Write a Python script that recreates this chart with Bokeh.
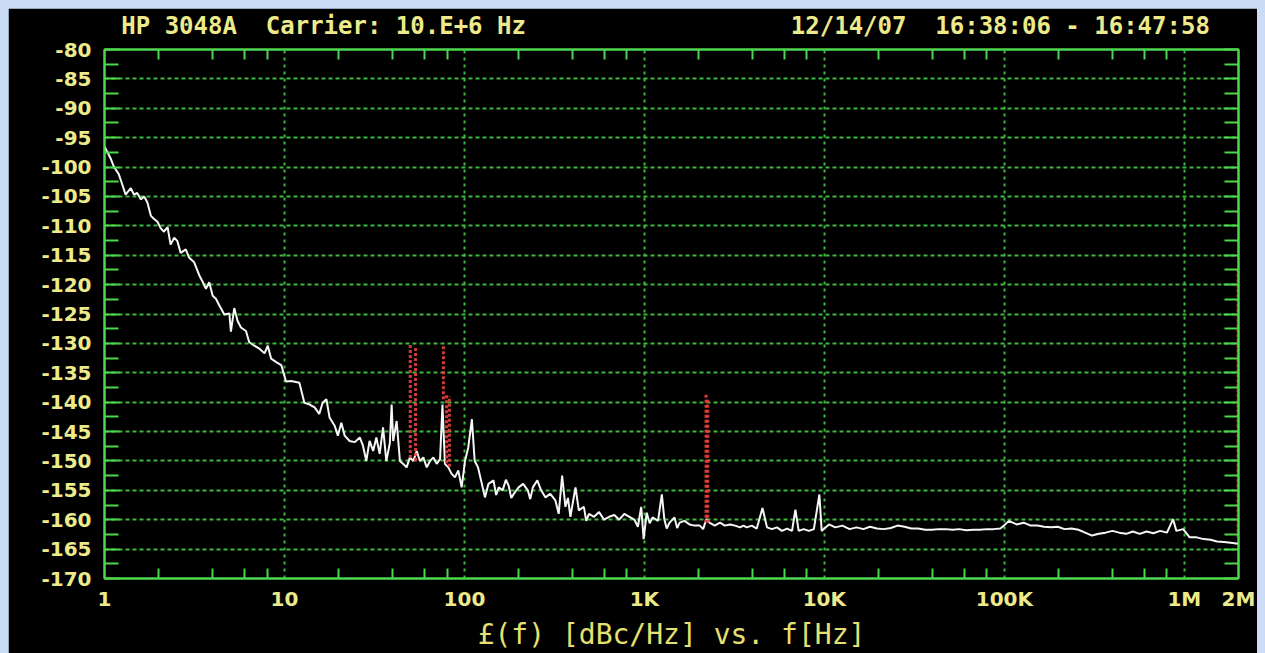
from bokeh.plotting import figure
from bokeh.models import Range1d, LogAxis, LinearAxis, FixedTicker
from bokeh.embed import file_html
from bokeh.resources import INLINE

# ---------------- data ----------------
freq = [1.0, 1.04, 1.08, 1.13, 1.2, 1.25, 1.31, 1.4, 1.46, 1.52, 1.59, 1.66, 1.73, 1.81, 1.88, 1.97,
        2.05, 2.14, 2.24, 2.33, 2.44, 2.54, 2.65, 2.83, 2.95, 3.15, 3.36, 3.51, 3.66, 3.82, 3.99, 4.16,
        4.34, 4.63, 4.94, 5.04, 5.26, 5.49, 5.73, 6.11, 6.37, 6.8, 7.26, 7.75, 8.08, 8.43, 9.0, 9.6, 9.94,
        10.2, 10.9, 12.1, 12.9, 13.8, 14.7, 15.6, 16.3, 17.1, 17.8, 19.0, 19.8, 20.7, 21.6, 23.0, 24.6,
        26.2, 27.3, 28.5, 29.7, 31.1, 32.4, 33.8, 35.3, 36.8, 38.5, 39.4, 40.2, 42.0, 43.8, 45.7, 47.7,
        49.8, 52.0, 54.3, 56.6, 59.1, 61.7, 64.4, 67.2, 70.1, 73.2, 75.5, 77.9, 81.3, 84.9, 88.6, 92.4,
        96.5, 100.7, 105, 110, 114, 119, 125, 130, 136, 145, 150, 155, 163, 170, 176, 182, 188, 200, 212,
        225, 232, 240, 254, 265, 282, 300, 320, 334, 349, 364, 376, 388, 414, 432, 461, 475, 492, 525,
        560, 597, 637, 680, 725, 773, 825, 880, 920, 960, 990, 1030, 1070, 1110, 1190, 1250, 1290,
        1330, 1380, 1470, 1520, 1570, 1670, 1780, 1900, 2030, 2120, 2210, 2300, 2460, 2630, 2800,
        2990, 3190, 3400, 3550, 3700, 3950, 4210, 4530, 4800, 5110, 5450, 5810, 6200, 6610, 6900,
        7200, 7680, 8200, 8740, 9380, 9660, 9900, 10600, 11500, 12600, 13800, 15100, 16500, 17900,
        19600, 21400, 23400, 25500, 27900, 30400, 33200, 36300, 39600, 43200, 47200, 51500, 56200,
        61400, 67000, 73000, 80000, 87000, 95000, 99500, 106000, 117000, 128000, 140000, 153000,
        166000, 182000, 198000, 216000, 236000, 258000, 281000, 307000, 335000, 365000, 399000,
        435000, 475000, 518000, 565000, 617000, 673000, 734000, 801000, 866000, 903000, 985000,
        1070000, 1170000, 1280000, 1400000, 1520000, 1660000, 1810000, 1980000, 2000000]
level = [-96.5, -97.5, -98.5, -100.0, -101.2, -102.8, -104.7, -103.6, -104.7, -104.4, -105.5, -105.0,
         -106.0, -108.3, -108.8, -109.3, -110.4, -111.0, -110.2, -113.2, -112.0, -112.6, -114.6, -114.0,
         -115.4, -116.2, -118.4, -119.5, -120.7, -119.6, -121.9, -122.4, -123.5, -125.1, -124.9, -128.0,
         -124.0, -126.2, -127.3, -127.9, -129.8, -130.4, -130.9, -131.7, -130.4, -132.6, -133.2, -133.7,
         -135.3, -136.5, -136.4, -136.7, -140.1, -140.4, -140.9, -142.0, -140.1, -139.5, -142.6, -144.0,
         -145.7, -143.5, -145.7, -146.6, -146.8, -146.0, -147.4, -150.0, -146.6, -148.3, -146.0, -148.8,
         -144.3, -150.0, -147.0, -140.4, -146.6, -143.2, -150.0, -150.5, -151.1, -149.4, -150.0, -148.3,
         -150.0, -149.4, -151.1, -150.0, -149.4, -150.5, -149.7, -140.4, -150.5, -151.1, -152.2, -152.8,
         -151.6, -154.5, -150.0, -147.7, -142.9, -150.0, -151.1, -153.9, -156.2, -153.9, -153.3, -155.8,
         -154.5, -155.0, -153.2, -154.2, -156.3, -155.6, -154.5, -153.9, -155.0, -156.5, -154.5, -153.3,
         -154.8, -156.2, -155.6, -156.7, -159.0, -152.5, -157.8, -156.3, -159.5, -154.5, -158.4, -157.8,
         -160.2, -159.0, -159.5, -158.7, -160.0, -159.5, -159.2, -160.0, -159.0, -159.5, -160.0, -161.2,
         -157.8, -163.3, -158.8, -160.6, -159.6, -160.2, -155.7, -159.9, -161.5, -160.5, -159.6, -161.4,
         -160.5, -160.2, -160.8, -161.0, -161.0, -161.6, -159.9, -160.5, -161.0, -160.5, -161.0, -160.8,
         -161.0, -161.3, -161.0, -161.3, -161.0, -161.5, -158.0, -161.3, -161.6, -161.3, -161.9, -161.5,
         -161.9, -158.3, -161.9, -161.6, -161.9, -161.6, -155.7, -161.9, -161.6, -160.8, -161.3, -161.0,
         -161.6, -161.3, -161.6, -161.2, -161.5, -161.6, -161.4, -161.0, -161.2, -161.5, -161.5, -161.7,
         -161.7, -161.6, -161.6, -161.7, -161.6, -161.8, -161.7, -161.7, -161.6, -161.6, -161.5, -161.0,
         -160.2, -160.8, -160.5, -161.0, -161.0, -161.2, -161.3, -161.2, -161.6, -161.5, -161.7, -162.2,
         -162.7, -162.4, -162.2, -161.9, -162.2, -162.4, -162.0, -162.4, -162.0, -162.3, -161.9, -162.2,
         -159.9, -161.9, -161.6, -163.0, -163.0, -163.3, -163.4, -163.7, -163.8, -163.9, -164.1, -163.9]

spur_freq = [50.0, 53.5, 76.4, 79.5, 82.5, 2200.0, 2250.0, 1990000.0]
spur_top = [-130.2, -130.8, -130.2, -138.6, -139.0, -138.7, -139.5, -117.5]
spur_bottom = [-149.5, -150.0, -139.5, -150.4, -151.0, -160.5, -160.5, -163.0]

ytick_vals = [-80, -85, -90, -95, -100, -105, -110, -115, -120, -125, -130, -135,
              -140, -145, -150, -155, -160, -165, -170]
ytick_labels = ["-80", "-85", "-90", "-95", "-100", "-105", "-110", "-115", "-120", "-125",
                "-130", "-135", "-140", "-145", "-150", "-155", "-160", "-165", "-170"]
xtick_vals = [1, 10, 100, 1000, 10000, 100000, 1000000, 2000000]
xtick_labels = ["1", "10", "100", "1K", "10K", "100K", "1M", "2M"]
decades = [10, 100, 1000, 10000, 100000, 1000000]

NB = "\u00a0"
header_texts = ["HP 3048A" + NB + " Carrier: 10.E+6 Hz", "12/14/07" + NB + " 16:38:06 - 16:47:58"]
axis_text = "£(f) [dBc/Hz] vs. f[Hz]"

# ---------------- style / layout ----------------
YEL = "#ecea8a"
GREEN = "#4cd84c"
GRID = "#3cb83c"
TICK_FONT = "DejaVu Sans"
HEADER_POS = [16.5, 95000]   # horizontal centres of the two header texts (on the x scale)

x_start, x_end = xtick_vals[0], xtick_vals[-1]
y_start, y_end = ytick_vals[-1], ytick_vals[0]

p = figure(width=1249, height=645, x_axis_type="log",
           x_range=Range1d(x_start, x_end), y_range=Range1d(y_start, y_end),
           output_backend="svg", toolbar_location=None,
           background_fill_color="black", border_fill_color="black",
           min_border_left=96, min_border_right=19, min_border_top=36, min_border_bottom=73)
p.margin = (8, 0, 0, 8)
p.outline_line_color = GREEN
p.outline_line_width = 2

xminor = [m * 10 ** d for d in range(6) for m in (2, 4, 6, 8)]
yminor = [v - 2.5 for v in ytick_vals[:-1]]

# bottom axis
xa = p.xaxis[0]
xa.ticker = FixedTicker(ticks=xtick_vals, minor_ticks=xminor)
xa.major_label_overrides = dict(zip(xtick_vals, xtick_labels))
xa.axis_line_color = GREEN
xa.axis_line_width = 2
xa.major_tick_in = 0
xa.major_tick_out = 0
xa.minor_tick_in = 10
xa.minor_tick_out = 0
xa.minor_tick_line_color = GREEN
xa.minor_tick_line_width = 2
xa.major_label_standoff = 8
xa.major_label_text_font = TICK_FONT
xa.major_label_text_font_style = "bold"
xa.major_label_text_font_size = "20px"
xa.major_label_text_color = YEL
xa.axis_label = axis_text
xa.axis_label_standoff = 4
xa.axis_label_text_font = "DejaVu Sans Mono"
xa.axis_label_text_font_style = "normal"
xa.axis_label_text_font_size = "28px"
xa.axis_label_text_color = "#e6e070"

# left axis
ya = p.yaxis[0]
ya.ticker = FixedTicker(ticks=ytick_vals, minor_ticks=yminor)
ya.major_label_overrides = dict(zip(ytick_vals, ytick_labels))
ya.axis_line_color = GREEN
ya.axis_line_width = 2
ya.major_tick_in = 15
ya.major_tick_out = 0
ya.minor_tick_in = 14
ya.minor_tick_out = 0
ya.major_tick_line_color = GREEN
ya.minor_tick_line_color = GREEN
ya.major_tick_line_width = 2
ya.minor_tick_line_width = 2
ya.major_label_standoff = 13
ya.major_label_text_font = TICK_FONT
ya.major_label_text_font_style = "bold"
ya.major_label_text_font_size = "20px"
ya.major_label_text_color = YEL

# top axis: minor ticks + header texts
top = LogAxis(ticker=FixedTicker(ticks=HEADER_POS, minor_ticks=xminor),
              major_label_overrides=dict(zip(HEADER_POS, header_texts)),
              major_label_text_font="DejaVu Sans Mono", major_label_text_font_style="bold",
              major_label_text_font_size="24px", major_label_text_color=YEL,
              major_label_standoff=10,
              axis_line_color=GREEN, axis_line_width=2,
              major_tick_in=0, major_tick_out=0, minor_tick_in=10, minor_tick_out=0,
              minor_tick_line_color=GREEN, minor_tick_line_width=2)
p.add_layout(top, "above")

# right axis (ticks only)
right = LinearAxis(ticker=FixedTicker(ticks=ytick_vals, minor_ticks=yminor),
                   major_label_text_font_size="1px", major_label_text_color=None,
                   major_label_standoff=0,
                   axis_line_color=GREEN, axis_line_width=2,
                   major_tick_in=15, major_tick_out=0, minor_tick_in=14, minor_tick_out=0,
                   major_tick_line_color=GREEN, minor_tick_line_color=GREEN,
                   major_tick_line_width=2, minor_tick_line_width=2)
p.add_layout(right, "right")

# grids
p.xgrid.ticker = FixedTicker(ticks=decades)
p.ygrid.ticker = FixedTicker(ticks=ytick_vals[1:-1])
p.xgrid.grid_line_color = GRID
p.ygrid.grid_line_color = GRID
p.xgrid.grid_line_width = 2
p.ygrid.grid_line_width = 2
p.xgrid.grid_line_dash = "3 4"
p.ygrid.grid_line_dash = "4 3"

# data
p.line(freq, level, line_color="#f6f6f6", line_width=2)
p.segment(x0=spur_freq, y0=spur_bottom, x1=spur_freq, y1=spur_top,
          line_color="#e8403c", line_width=3, line_dash="3 2", line_alpha=0.9)

html = file_html(p, INLINE)
html = html.replace("</head>", "<style>body{background:#cadcf6;}</style></head>", 1)
open("out.html", "w").write(html)
